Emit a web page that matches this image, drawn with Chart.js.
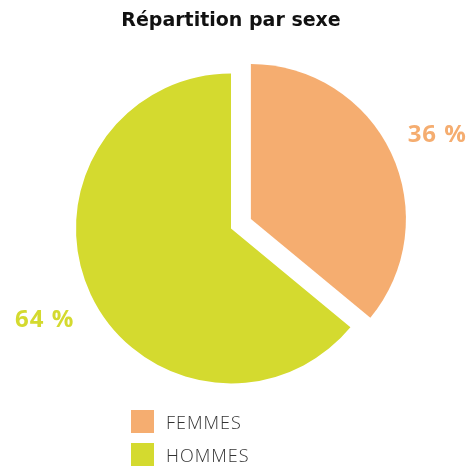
<!DOCTYPE html>
<html>
<head>
<meta charset="utf-8">
<script src="https://cdn.jsdelivr.net/npm/chart.js@4"></script>
<style>
  html, body { margin: 0; padding: 0; background: #fff; }
  #wrap { position: relative; width: 468px; height: 468px; }
  #legend { position: absolute; left: 131px; top: 410px; font-family: "Open Sans", sans-serif; }
  .item { display: flex; align-items: center; height: 23px; margin-bottom: 10px; }
  .box { width: 23px; height: 23px; margin-right: 12px; }
  .txt { font-size: 18px; font-weight: 300; color: #333; letter-spacing: 1px; }
</style>
</head>
<body>
<div id="wrap">
  <canvas id="pie" width="468" height="468"></canvas>
  <div id="legend"></div>
</div>
<script>
// Données
const labels = ["FEMMES", "HOMMES"];
const values = [36, 64];
const colors = ["#F5AD70", "#D4DA2F"];

// décalage (en px) de chaque part vers l'extérieur
const explode = [22, 0];

// Dessine les parts en les décalant vers l'extérieur
const explodeSlices = {
  id: 'explodeSlices',
  beforeDatasetDraw(chart, args) {
    const ctx = chart.ctx;
    args.meta.data.forEach((arc, i) => {
      const mid = (arc.startAngle + arc.endAngle) / 2;
      const d = explode[i] || 0;
      ctx.save();
      ctx.translate(Math.cos(mid) * d, Math.sin(mid) * d);
      arc.draw(ctx, chart.chartArea);
      ctx.restore();
    });
    return false;
  }
};

// Etiquettes "xx %" à l'extérieur des parts
const outsideLabels = {
  id: 'outsideLabels',
  afterDatasetsDraw(chart) {
    const ctx = chart.ctx;
    const meta = chart.getDatasetMeta(0);
    ctx.save();
    ctx.font = "bold 24px 'Open Sans', sans-serif";
    ctx.letterSpacing = "1px";
    ctx.textAlign = "center";
    ctx.textBaseline = "middle";
    meta.data.forEach((arc, i) => {
      const p = arc.getProps(['x', 'y', 'startAngle', 'endAngle', 'outerRadius'], true);
      const mid = (p.startAngle + p.endAngle) / 2;
      const r = p.outerRadius + explode[i] + 51;
      ctx.fillStyle = colors[i];
      ctx.fillText(values[i] + " %", p.x + Math.cos(mid) * r, p.y + Math.sin(mid) * r + 4);
    });
    ctx.restore();
  }
};

new Chart(document.getElementById('pie'), {
  type: 'pie',
  data: {
    labels: labels,
    datasets: [{
      data: values,
      backgroundColor: colors,
      borderWidth: 0
    }]
  },
  options: {
    responsive: false,
    animation: false,
    radius: 155,
    layout: { padding: { left: 60, right: 66, top: 0, bottom: 64 } },
    plugins: {
      legend: { display: false },
      tooltip: { enabled: false },
      title: {
        display: true,
        text: "Répartition par sexe",
        color: "#111",
        font: { family: "'DejaVu Sans', sans-serif", size: 19, weight: 'bold' },
        padding: { top: 10, bottom: 20 }
      }
    }
  },
  plugins: [explodeSlices, outsideLabels]
});

// Légende verticale
const legend = document.getElementById('legend');
labels.forEach((lab, i) => {
  const item = document.createElement('div');
  item.className = 'item';
  item.innerHTML = '<div class="box" style="background:' + colors[i] + '"></div><span class="txt">' + lab + '</span>';
  legend.appendChild(item);
});
</script>
</body>
</html>
